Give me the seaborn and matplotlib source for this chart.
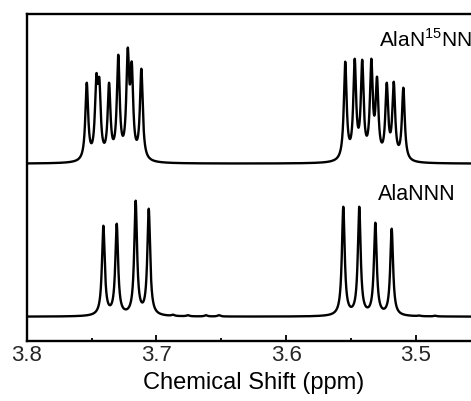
import numpy as np
import pandas as pd
import matplotlib
matplotlib.use("Agg")
import matplotlib.pyplot as plt
import seaborn as sns
from matplotlib.ticker import MultipleLocator

# ---- data (ppm, intensity in arbitrary units) ----
top_label = "AlaN$^{\\mathregular{15}}$NN"
bottom_label = "AlaNNN"

top_ppm = [3.7537, 3.7463, 3.7440, 3.7365, 3.7294, 3.7221, 3.7190, 3.7116,
           3.5544, 3.5471, 3.5413, 3.5343, 3.5299, 3.5224, 3.5170, 3.5096]
top_height = [81, 90, 86, 81, 109, 116, 102, 95,
              102, 105, 104, 105, 87, 81, 82, 76]

bottom_ppm = [3.7409, 3.7306, 3.7160, 3.7059,
              3.5559, 3.5436, 3.5312, 3.5186,
              3.6872, 3.6757, 3.6618, 3.6518, 3.4974, 3.4851]
bottom_height = [91, 93, 116, 108,
                 110, 110, 94, 88,
                 2.0, 1.5, 1.5, 1.5, 1.2, 1.0]

top_offset = 177
bottom_offset = 24
hwhm = 0.0013

xticks = [3.8, 3.7, 3.6, 3.5]
xtick_labels = ["3.8", "3.7", "3.6", "3.5"]
xlabel = "Chemical Shift (ppm)"

# ---- build spectra ----
x = np.linspace(3.80, 3.44, 6000)


def lor(d):
    return 1.0 / (1.0 + (d / hwhm) ** 2)


def spectrum(pos, h):
    pos = np.asarray(pos)
    h = np.asarray(h, dtype=float)
    A = lor(pos[:, None] - pos[None, :])
    amp = np.linalg.solve(A, h)
    return (amp[None, :] * lor(x[:, None] - pos[None, :])).sum(axis=1)


df = pd.concat([
    pd.DataFrame({"ppm": x, "I": spectrum(top_ppm, top_height) + top_offset, "s": "top"}),
    pd.DataFrame({"ppm": x, "I": spectrum(bottom_ppm, bottom_height) + bottom_offset, "s": "bottom"}),
])

sns.set_theme(style="white")
plt.rcParams["font.family"] = ["Liberation Sans", "DejaVu Sans"]
plt.rcParams["mathtext.fontset"] = "custom"
plt.rcParams["mathtext.rm"] = "Liberation Sans"

fig = plt.figure(figsize=(4.71, 4.01), dpi=100)
ax = fig.add_axes([26.7 / 471, 1 - 340.7 / 401, 453.3 / 471, (340.7 - 14) / 401])

sns.lineplot(data=df, x="ppm", y="I", units="s", estimator=None, color="black",
             linewidth=1.7, ax=ax, sort=False)

ax.set_xlim(3.8, 3.8 - 453.3 / 1297)
ax.set_ylim(0, 326.7)
ax.set_yticks([])
ax.set_xticks(xticks)
ax.set_xticklabels(xtick_labels)
ax.xaxis.set_minor_locator(MultipleLocator(0.05))
ax.tick_params(axis="x", which="major", direction="in", length=4.5, width=1.3,
               labelsize=16, pad=3.3, color="black", bottom=True)
ax.tick_params(axis="x", which="minor", direction="in", length=2.2, width=1.3,
               color="black", bottom=True)
ax.set_xlabel(xlabel, fontsize=17, labelpad=4.0, color="black")
ax.set_ylabel("")
for side in ["left", "bottom", "top"]:
    ax.spines[side].set_visible(True)
    ax.spines[side].set_linewidth(1.7)
    ax.spines[side].set_color("black")
ax.spines["right"].set_visible(False)

ax.text(3.8 - (379 - 26.7) / 1297, 340.7 - 47, top_label, fontsize=15,
        ha="left", va="baseline", color="black", clip_on=False)
ax.text(3.8 - (378 - 26.7) / 1297, 340.7 - 200, bottom_label, fontsize=15.5,
        ha="left", va="baseline", color="black")

fig.savefig("out.png", dpi=100)
